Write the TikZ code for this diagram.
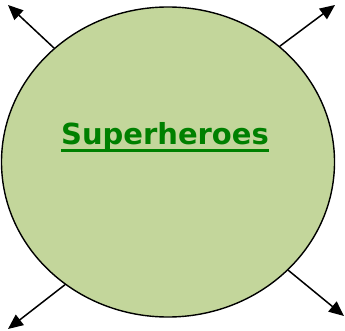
\documentclass[tikz,border=0pt]{standalone}
\usepackage{fontspec}
\setmainfont{DejaVu Sans}
\usetikzlibrary{shapes.geometric,arrows.meta}
\definecolor{hubfill}{HTML}{C3D69B}
\definecolor{titlegreen}{HTML}{008000}
\tikzset{
  hubstyle/.style={ellipse, draw=black, line width=1.4pt, fill=hubfill, minimum width=333pt, minimum height=310pt, inner sep=0pt},
  outarrow/.style={draw=black, line width=1.5pt, -{Triangle[length=15pt,width=13pt]}},
  titlestyle/.style={text=titlegreen, font=\bfseries\fontsize{29}{34}\selectfont, inner sep=0pt, anchor=base}
}
\begin{document}
\begin{tikzpicture}[x=1pt,y=1pt]
\useasboundingbox (0,0) rectangle (345,-331);
\node[hubstyle] (hub) at (168,-162) {};
\coordinate (tl) at (8,-5);
\coordinate (tr) at (335,-5);
\coordinate (bl) at (8,-329);
\coordinate (br) at (344,-316);
\draw[outarrow] (hub.135) -- (tl);
\draw[outarrow] (hub.46) -- (tr);
\draw[outarrow] (hub.230) -- (bl);
\draw[outarrow] (hub.318) -- (br);
\node[titlestyle] (title) at (165,-145) {Superheroes};
\draw[titlegreen, line width=3pt] ([yshift=-6pt]title.base west) -- ([yshift=-6pt]title.base east);
\end{tikzpicture}
\end{document}
